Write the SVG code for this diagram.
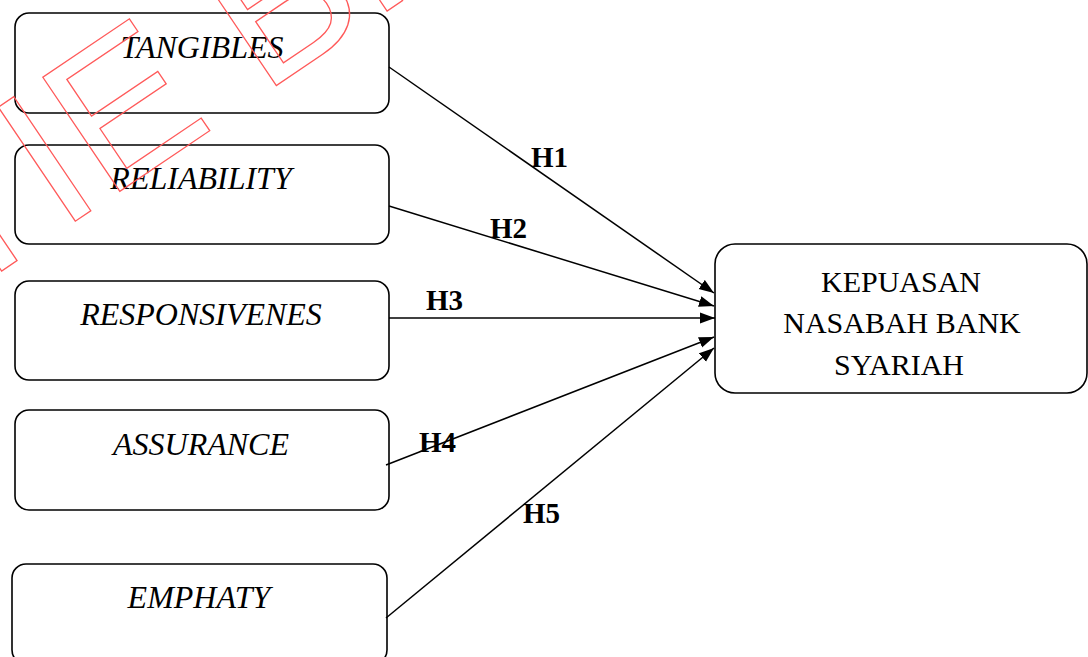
<svg xmlns="http://www.w3.org/2000/svg" width="1088" height="657" viewBox="0 0 1088 657">
<style>
.box{fill:#fff;stroke:#000;stroke-width:1.6}
.lbl{font-family:"Liberation Serif","Times New Roman",serif;font-size:32px;font-style:italic;fill:#000;text-anchor:middle}
.main{font-family:"Liberation Serif","Times New Roman",serif;font-size:30px;fill:#000;text-anchor:middle}
.h{font-family:"Liberation Serif","Times New Roman",serif;font-size:29px;font-weight:bold;fill:#000}
.con{stroke:#000;stroke-width:1.5;fill:none;marker-end:url(#arr)}
.wm{font-family:"Liberation Sans",Arial,sans-serif;font-size:200px;fill:none;stroke:#ff5a5a;stroke-width:1.3}
</style>
<defs>
<marker id="arr" markerUnits="userSpaceOnUse" markerWidth="16" markerHeight="12" viewBox="0 0 16 12" refX="15" refY="6" orient="auto">
<path d="M0,0.5 L15,6 L0,11.5 z" fill="#000"/>
</marker>
</defs>
<rect width="1088" height="657" fill="#fff"/>
<g id="tangibles"><rect class="box" x="15" y="13" width="374" height="100" rx="14"/><text class="lbl" x="202" y="58">TANGIBLES</text></g>
<g id="reliability"><rect class="box" x="15" y="145" width="374" height="99" rx="14"/><text class="lbl" x="201" y="189">RELIABILITY</text></g>
<g id="responsivenes"><rect class="box" x="15" y="281" width="374" height="99" rx="14"/><text class="lbl" x="201" y="325">RESPONSIVENES</text></g>
<g id="assurance"><rect class="box" x="15" y="410" width="374" height="100" rx="14"/><text class="lbl" x="201" y="455">ASSURANCE</text></g>
<g id="emphaty"><rect class="box" x="12" y="564" width="375" height="100" rx="14"/><text class="lbl" x="199" y="608">EMPHATY</text></g>
<g id="kepuasan"><rect class="box" x="715" y="244" width="372" height="149" rx="20"/><text class="main" x="901" y="292">KEPUASAN</text><text class="main" x="902" y="333">NASABAH BANK</text><text class="main" x="899" y="375">SYARIAH</text></g>
<g id="connectors">
<line class="con" x1="389" y1="67" x2="714" y2="293"/>
<line class="con" x1="389" y1="206" x2="714" y2="306"/>
<line class="con" x1="389" y1="318" x2="715" y2="318"/>
<line class="con" x1="386" y1="465" x2="714" y2="337"/>
<line class="con" x1="386" y1="618" x2="714" y2="348"/>
<text class="h" x="531" y="167">H1</text>
<text class="h" x="490" y="238">H2</text>
<text class="h" x="426" y="310">H3</text>
<text class="h" x="419" y="452">H4</text>
<text class="h" x="523" y="523">H5</text>
</g>
<g id="watermark"><text class="wm" transform="translate(-151.8,374.5) rotate(-34)">STIE BP</text></g>
</svg>
